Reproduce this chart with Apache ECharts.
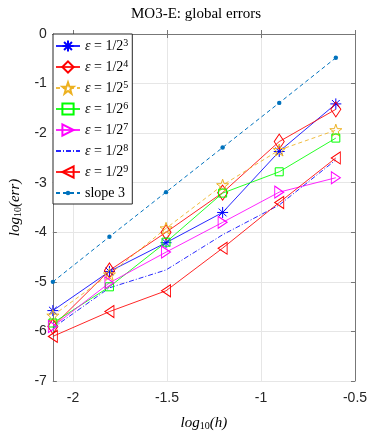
<!DOCTYPE html>
<html>
<head>
<meta charset="utf-8">
<script src="https://cdn.jsdelivr.net/npm/echarts@6/dist/echarts.min.js"></script>
<style>
  html, body { margin: 0; padding: 0; background: #fff; }
  #main { width: 392px; height: 436px; }
</style>
</head>
<body>
<div id="main"></div>
<script>
// NOTE - data (log10 values)

const logH = [-2.107, -1.806, -1.505, -1.204, -0.903, -0.602];

const eps3 = [-5.58, -4.79, -4.21, -3.60, -2.37, -1.41];
const eps4 = [-5.90, -4.77, -4.00, -3.20, -2.17, -1.52];
const eps5 = [-5.68, -4.85, -3.92, -3.05, -2.34, -1.94];
const eps6 = [-5.83, -5.10, -4.20, -3.21, -2.78, -2.10];
const eps7 = [-5.90, -5.02, -4.40, -3.80, -3.19, -2.90];
const eps8 = [-5.93, -5.12, -4.76, -4.05, -3.45, -2.54];
const eps9 = [-6.10, -5.60, -5.18, -4.32, -3.40, -2.50];
const slope3 = [-5.00, -4.09, -3.19, -2.29, -1.39, -0.48];

const xTicks = [-2, -1.5, -1, -0.5];

// NOTE - marker shapes

const asterisk = 'path://M0,-10L0,10M-10,0L10,0M-7.07,-7.07L7.07,7.07M-7.07,7.07L7.07,-7.07';
const pentagram = 'path://M0,-10L2.35,-3.24L9.51,-3.09L3.8,1.24L5.88,8.09L0,4L-5.88,8.09L-3.8,1.24L-9.51,-3.09L-2.35,-3.24Z';
const triRight = 'path://M0,0L10,6L0,12Z';
const triLeft = 'path://M10,0L0,6L10,12Z';
// small dot inside a bigger invisible box, so the legend dot stays small
const smallDot = 'path://M-10,-10M10,10M-4,0A4,4,0,1,0,4,0A4,4,0,1,0,-4,0Z';

function pairs(ys) {
  return logH.map((x, i) => [x, ys[i]]);
}

function makeSeries(name, ys, color, symbol, size, dash) {
  return {
    name: name,
    type: 'line',
    data: pairs(ys),
    symbol: symbol,
    symbolSize: size,
    color: color,
    lineStyle: { color: color, width: 1, type: dash || 'solid', opacity: 0.85 },
    itemStyle: { color: 'rgba(255,255,255,0)', borderColor: color, borderWidth: 1 },
    emphasis: { disabled: true },
    z: 3
  };
}

const serif = '"Liberation Serif", "DejaVu Serif", serif';
const sans = '"Liberation Sans", Arial, sans-serif';

var myChart = echarts.init(document.getElementById('main'));

var dashDot = makeSeries('e8', eps8, '#0000ff', 'circle', 0, [5, 2, 1, 2]);
dashDot.itemStyle = { color: 'rgba(255,255,255,0)', borderWidth: 0 };

var option = {
  backgroundColor: '#fff',
  animation: false,
  title: {
    text: 'MO3-E: global errors',
    left: 'center',
    top: 2,
    textStyle: { fontFamily: serif, fontWeight: 'normal', fontSize: 15, color: '#000' }
  },
  grid: { left: 52, right: 37, top: 34, bottom: 55 },
  legend: {
    orient: 'vertical',
    left: 53,
    top: 34,
    backgroundColor: '#fff',
    borderColor: '#262626',
    borderWidth: 1,
    borderRadius: 0,
    padding: [4, 4, 3, 2],
    itemWidth: 24,
    itemHeight: 14,
    itemGap: 5,
    formatter: function (name) {
      if (name === 'slope 3') return '{t|slope 3}';
      return '{e|ε} {t|= 1/2}{s|' + name.slice(-1) + '}';
    },
    textStyle: {
      fontFamily: serif,
      fontSize: 14,
      color: '#000',
      lineHeight: 16,
      rich: {
        e: { fontFamily: serif, fontStyle: 'italic', fontSize: 14, lineHeight: 16 },
        t: { fontFamily: serif, fontSize: 14, lineHeight: 16 },
        s: { fontFamily: serif, fontSize: 10, lineHeight: 10, verticalAlign: 'top' }
      }
    },
    data: ['e3', 'e4', 'e5', 'e6', 'e7', 'e8', 'e9', 'slope 3']
  },
  xAxis: [
    {
      type: 'value',
      min: -2.107,
      max: -0.5,
      axisLine: { lineStyle: { color: '#777', width: 1 } },
      axisTick: { inside: true, length: 4, customValues: xTicks, lineStyle: { color: '#777' } },
      axisLabel: {
        customValues: xTicks,
        fontFamily: sans,
        fontSize: 14,
        color: '#262626',
        margin: 10,
        formatter: v => String(v)
      },
      splitLine: { show: true, lineStyle: { color: '#e6e6e6', width: 1 } },
      name: '{i|log}{sub|10}{i|(h)}',
      nameLocation: 'middle',
      nameGap: 34,
      nameTextStyle: {
        rich: {
          i: { fontFamily: serif, fontStyle: 'italic', fontSize: 15, color: '#000' },
          sub: { fontFamily: serif, fontSize: 10, color: '#000', padding: [6, 0, 0, 0] }
        }
      }
    },
    {
      type: 'value',
      position: 'top',
      min: -2.107,
      max: -0.5,
      axisLine: { show: true, lineStyle: { color: '#777', width: 1 } },
      axisTick: { inside: true, length: 4, customValues: xTicks, lineStyle: { color: '#777' } },
      axisLabel: { show: false },
      splitLine: { show: false }
    }
  ],
  yAxis: [
    {
      type: 'value',
      min: -7,
      max: 0,
      interval: 1,
      axisLine: { show: true, lineStyle: { color: '#777', width: 1 } },
      axisTick: { show: true, inside: true, length: 4, lineStyle: { color: '#777' } },
      axisLabel: { fontFamily: sans, fontSize: 14, color: '#262626', margin: 6 },
      splitLine: { show: true, lineStyle: { color: '#e6e6e6', width: 1 } },
      name: '{i|log}{sub|10}{i|(err)}',
      nameLocation: 'middle',
      nameRotate: 90,
      nameGap: 28,
      nameTextStyle: {
        rich: {
          i: { fontFamily: serif, fontStyle: 'italic', fontSize: 15, color: '#000' },
          sub: { fontFamily: serif, fontSize: 10, color: '#000', padding: [6, 0, 0, 0] }
        }
      }
    },
    {
      type: 'value',
      position: 'right',
      min: -7,
      max: 0,
      interval: 1,
      axisLine: { show: true, lineStyle: { color: '#777', width: 1 } },
      axisTick: { show: true, inside: true, length: 4, lineStyle: { color: '#777' } },
      axisLabel: { show: false },
      splitLine: { show: false }
    }
  ],
  series: [
    makeSeries('e3', eps3, '#0000ff', asterisk, 11),
    makeSeries('e4', eps4, '#ff0000', 'diamond', [10, 15]),
    makeSeries('e5', eps5, '#EDB120', pentagram, 12, [4, 3]),
    makeSeries('e6', eps6, '#00ff00', 'rect', 8),
    makeSeries('e7', eps7, '#ff00ff', triRight, [9, 12]),
    dashDot,
    makeSeries('e9', eps9, '#ff0000', triLeft, [9, 12]),
    {
      name: 'slope 3',
      type: 'line',
      data: pairs(slope3),
      symbol: smallDot,
      symbolSize: 11,
      color: '#0072BD',
      lineStyle: { color: '#0072BD', width: 1, type: [4, 3] },
      itemStyle: { color: '#0072BD' },
      emphasis: { disabled: true },
      z: 3
    }
  ]
};

myChart.setOption(option);
</script>
</body>
</html>
